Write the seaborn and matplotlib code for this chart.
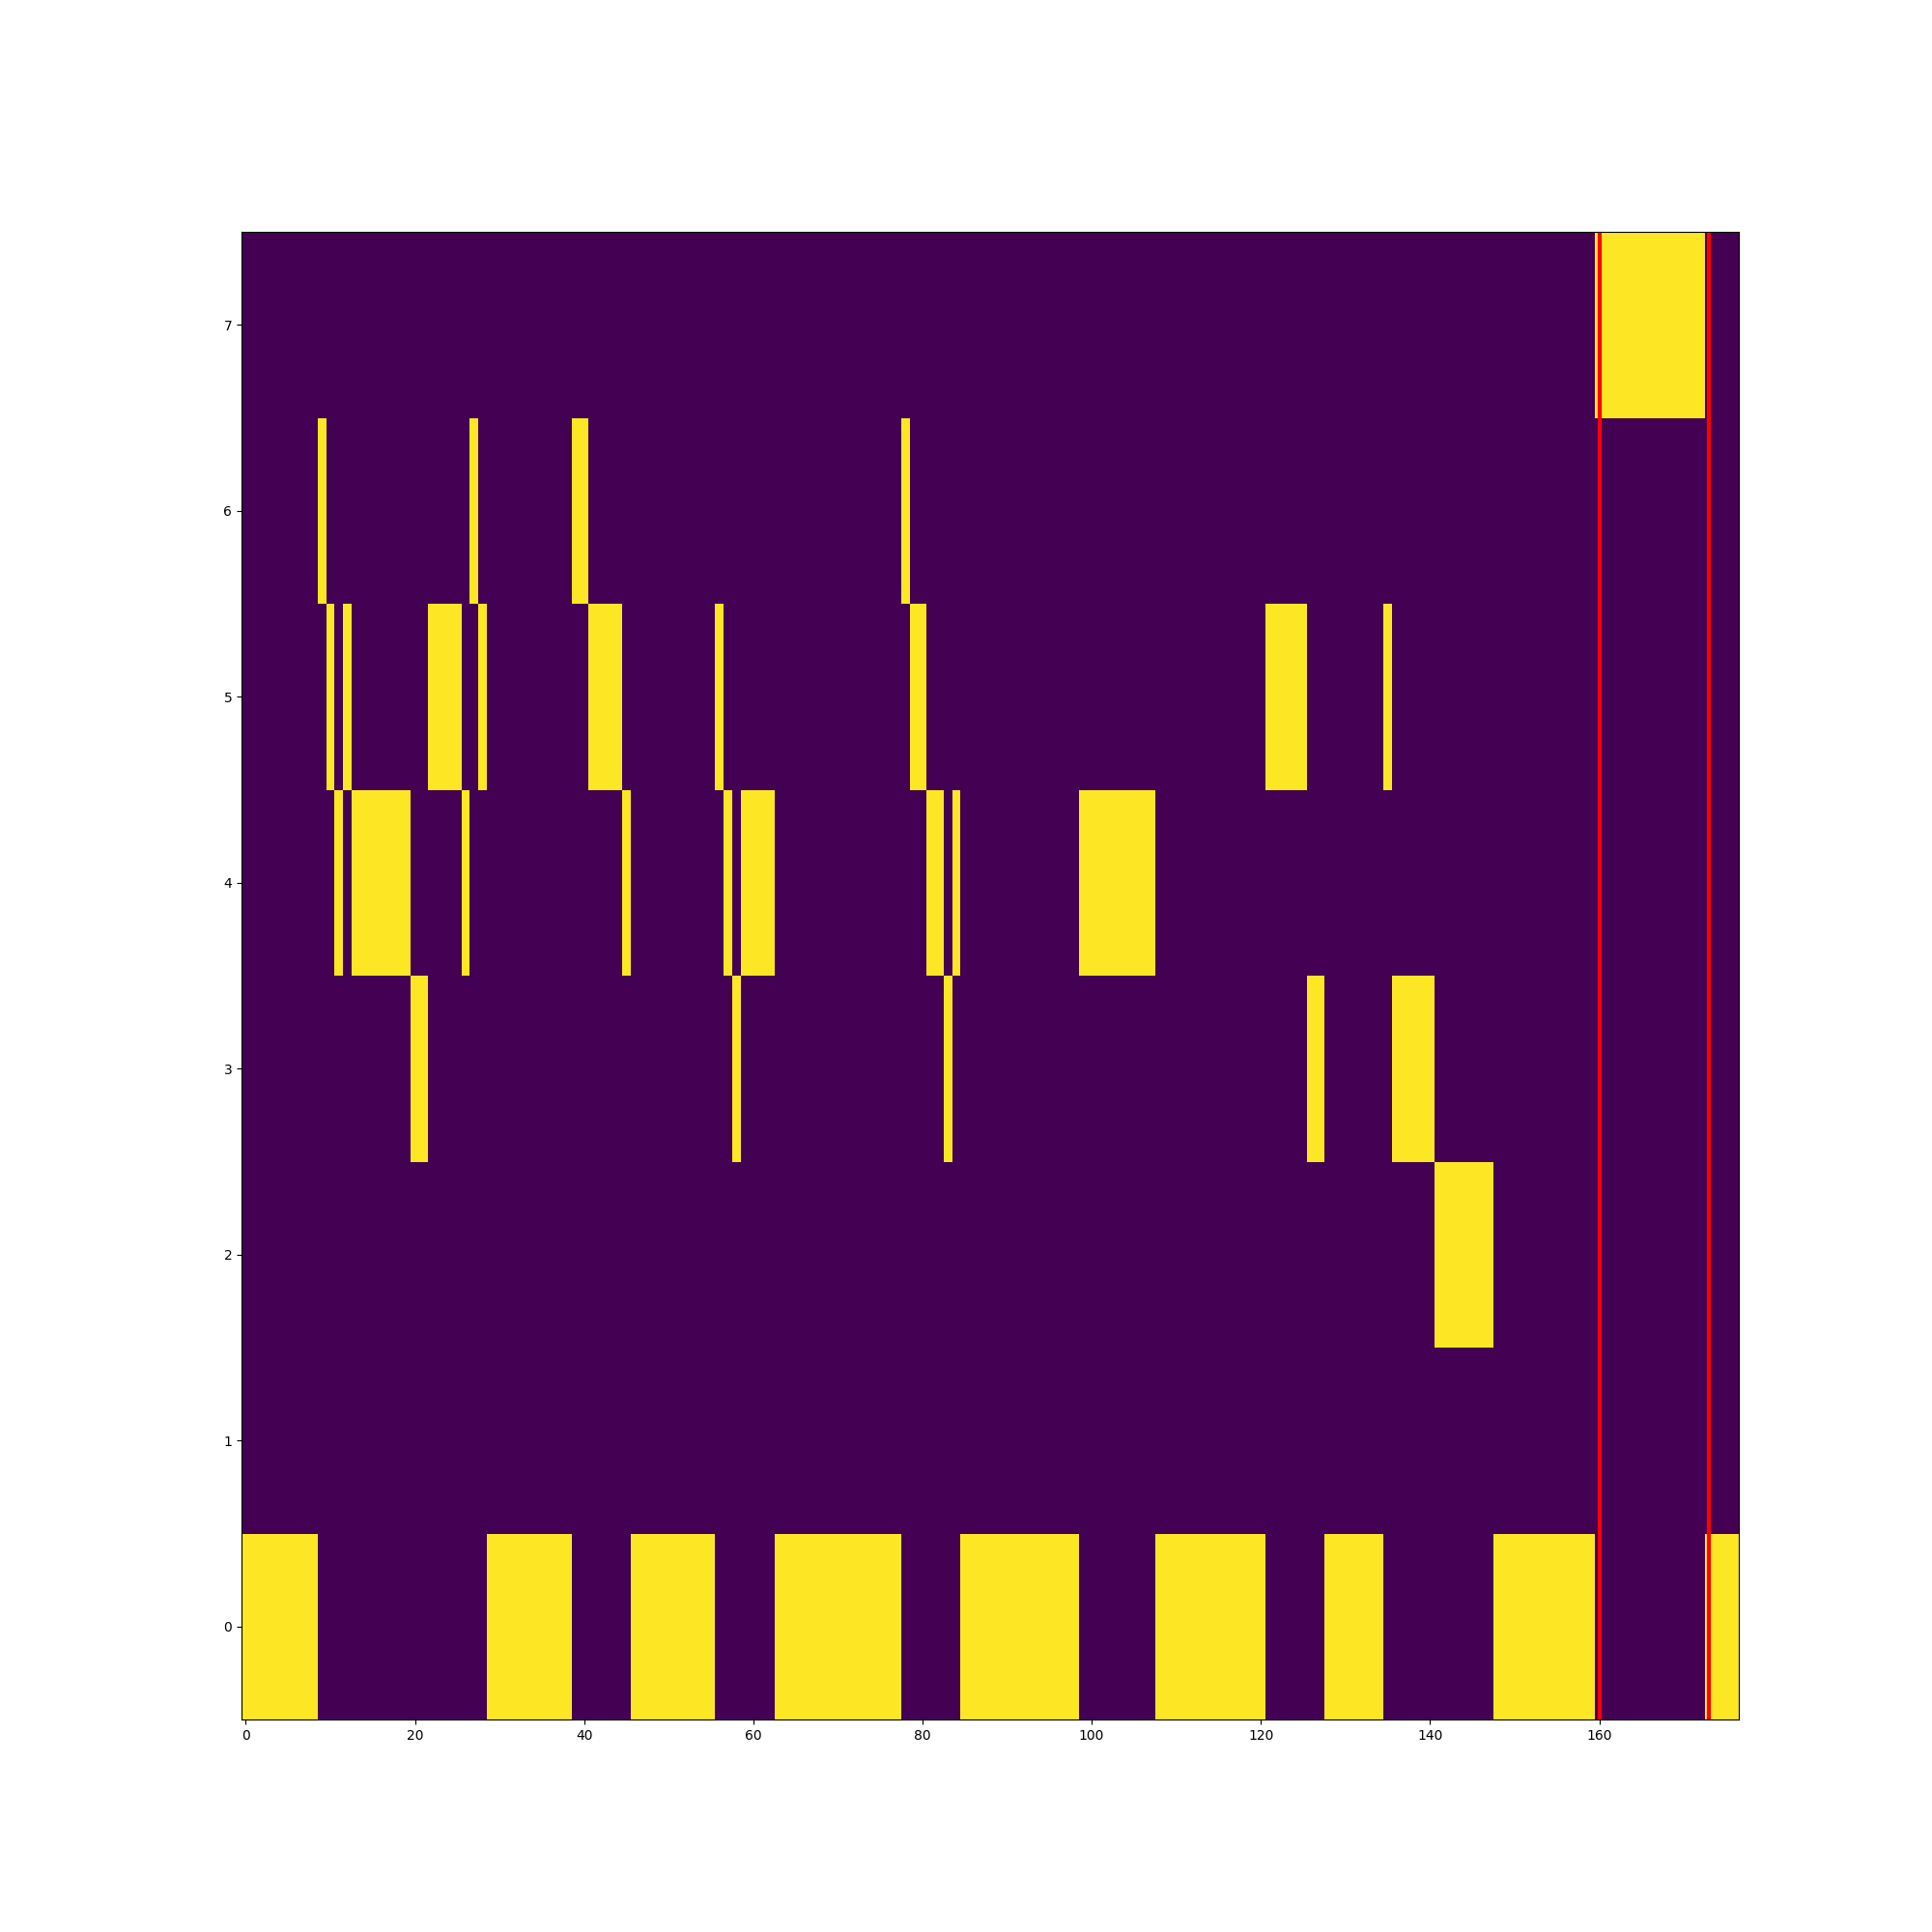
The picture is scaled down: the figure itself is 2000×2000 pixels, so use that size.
import numpy as np
import matplotlib
matplotlib.use("Agg")
import matplotlib.pyplot as plt
import seaborn as sns

# active state per run of columns (one-hot over 8 states)
run_states = [0, 6, 5, 4, 5, 4, 3, 5, 4, 6, 5, 0, 6, 5, 4, 0, 5, 4, 3, 4,
              0, 6, 5, 4, 3, 4, 0, 4, 0, 5, 3, 0, 5, 3, 2, 0, 7, 0]
run_lengths = [9, 1, 1, 1, 1, 7, 2, 4, 1, 1, 1, 10, 2, 4, 1, 10, 1, 1, 1, 4,
               15, 1, 2, 2, 1, 1, 14, 9, 13, 5, 2, 7, 1, 5, 7, 12, 13, 4]
n_states = 8
marker_cols = [160, 173]
xtick_vals = [0, 20, 40, 60, 80, 100, 120, 140, 160]
ytick_vals = [0, 1, 2, 3, 4, 5, 6, 7]

n_cols = sum(run_lengths)
grid = np.zeros((n_states, n_cols))
start = 0
for s, l in zip(run_states, run_lengths):
    grid[s, start:start + l] = 1
    start += l

fig = plt.figure(figsize=(20, 20), dpi=100)
ax = fig.add_subplot(111)
sns.heatmap(grid, cmap="viridis", vmin=0, vmax=1, cbar=False, ax=ax,
            linewidths=0, xticklabels=False, yticklabels=False)

# imshow-like axes: cell centres on integer ticks, origin at bottom
ax.set_xticks(np.array(xtick_vals) + 0.5, labels=[str(v) for v in xtick_vals], rotation=0)
ax.set_yticks(np.array(ytick_vals) + 0.5, labels=[str(v) for v in ytick_vals], rotation=0)
ax.set_xlim(0, n_cols)
ax.set_ylim(0, n_states)
for sp in ax.spines.values():
    sp.set_visible(True)
    sp.set_linewidth(0.8)
    sp.set_color("black")

for c in marker_cols:
    ax.axvline(c + 0.5, color="red", linewidth=3)

fig.savefig("out.png")
